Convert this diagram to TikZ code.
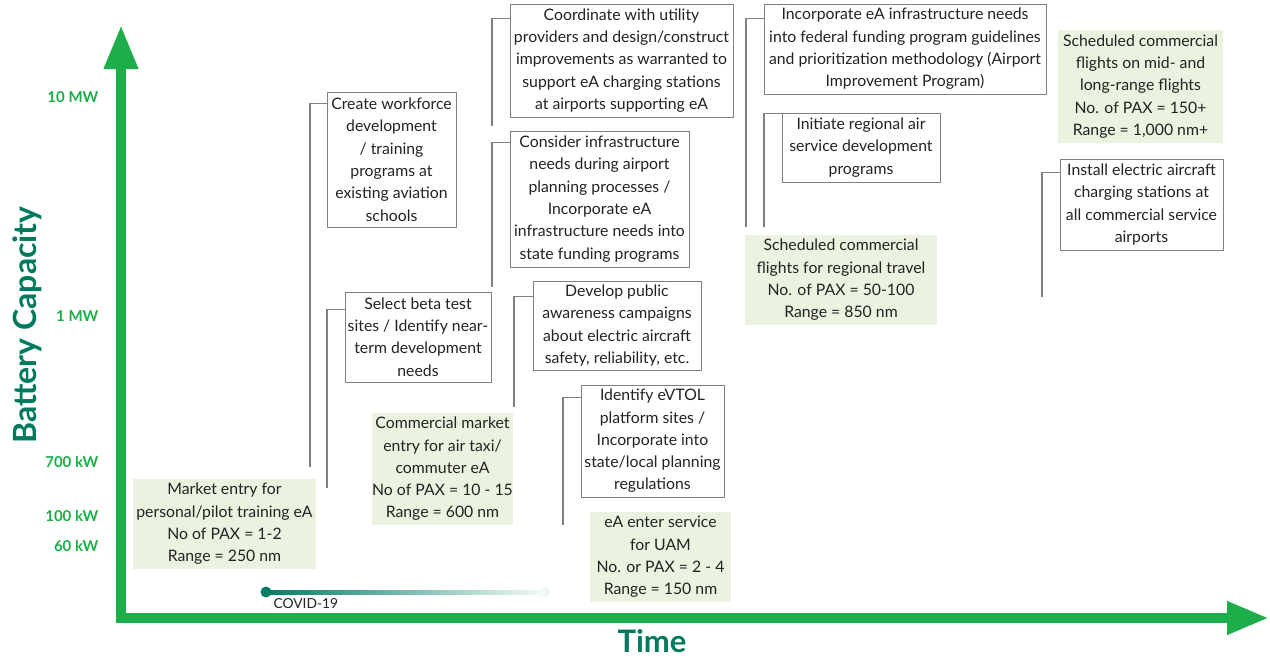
\documentclass[tikz,border=0pt]{standalone}
\usepackage{fontspec}
\setmainfont{Lato}
\usetikzlibrary{arrows.meta}
\definecolor{axisgreen}{RGB}{29,174,75}
\definecolor{titlegreen}{RGB}{0,122,94}
\definecolor{stagefill}{RGB}{235,242,224}
\definecolor{boxline}{RGB}{128,128,128}
\definecolor{textgray}{RGB}{35,35,35}
\definecolor{covid}{RGB}{0,125,100}
\tikzset{
  task/.style={draw=boxline,line width=0.9pt,fill=white,align=center,inner sep=0pt,
    text=textgray,font=\fontsize{15.8}{22.3}\selectfont},
  stage/.style={fill=stagefill,align=center,inner sep=0pt,
    text=textgray,font=\fontsize{15.8}{22.3}\selectfont},
  bracket/.style={draw=boxline,line width=1.3pt},
  level/.style={anchor=east,text=axisgreen,font=\fontsize{15}{16}\selectfont\bfseries},
  axis/.style={draw=axisgreen,line width=10pt,line join=miter}
}
\begin{document}
\begin{tikzpicture}[x=1pt,y=-1pt]
		\useasboundingbox (0,0) rectangle (1270,657);
		% axes
		\draw [axis,{Triangle[length=44pt,width=32pt]}-{Triangle[length=42pt,width=31pt]}] (121,25) -- (121,618) -- (1269,618);
		\node [rotate=90,text=titlegreen,font=\fontsize{32}{34}\selectfont\bfseries] (ylab) at (27,325) {Battery Capacity};
		\node [text=titlegreen,font=\fontsize{31}{33}\selectfont\bfseries] (xlab) at (652,641) {Time};
		\node [level] (l10) at (102,97) {10 MW};
		\node [level] (l1) at (102,316) {1 MW};
		\node [level] (l700) at (102,462) {700 kW};
		\node [level] (l100) at (102,516) {100 kW};
		\node [level] (l60) at (102,546) {60 kW};
		% covid bar
		\node [circle,fill=covid,inner sep=0pt,minimum size=11pt] (covS) at (266,592) {};
		\node [circle,fill=covid!6,inner sep=0pt,minimum size=11pt] (covE) at (545,592) {};
		\shade [left color=covid,right color=covid!4] ([yshift=2pt]covS.center) rectangle ([yshift=-2pt]covE.center);
		\node [anchor=west,text=textgray,font=\fontsize{13.8}{15}\selectfont] (covL) at (270,604) {COVID-19};
		% stages
		\node [stage,minimum width=183pt,minimum height=90pt] (s1) at (224.5,524) {Market entry for\\personal/pilot training eA\\No of PAX = 1-2\\Range = 250 nm};
		\node [stage,minimum width=141pt,minimum height=112pt] (s2) at (442.5,469) {Commercial market\\entry for air taxi/\\commuter eA\\No of PAX = 10 - 15\\Range = 600 nm};
		\node [stage,minimum width=141pt,minimum height=90pt] (s3) at (660.5,557) {eA enter service\\for UAM\\No. or PAX = 2 - 4\\Range = 150 nm};
		\node [stage,minimum width=192pt,minimum height=90pt] (s4) at (841,280) {Scheduled commercial\\flights for regional travel\\No. of PAX = 50-100\\Range = 850 nm};
		\node [stage,minimum width=165pt,minimum height=113pt] (s5) at (1140.5,86.5) {Scheduled commercial\\flights on mid- and\\long-range flights\\No. of PAX = 150+\\Range = 1,000 nm+};
		% tasks
		\node [task,minimum width=129pt,minimum height=135pt] (wf) at (391.5,159.5) {Create workforce\\development\\/ training\\programs at\\existing aviation\\schools};
		\node [task,minimum width=146pt,minimum height=90pt] (beta) at (418,337) {Select beta test\\sites / Identify near-\\term development\\needs};
		\node [task,minimum width=223pt,minimum height=113pt] (util) at (621.5,60.5) {Coordinate with utility\\providers and design/construct\\improvements as warranted to\\support eA charging stations\\at airports supporting eA};
		\node [task,minimum width=179pt,minimum height=136pt] (plan) at (599.5,199) {Consider infrastructure\\needs during airport\\planning processes /\\Incorporate eA\\infrastructure needs into\\state funding programs};
		\node [task,minimum width=168pt,minimum height=89pt] (aware) at (617,325.5) {Develop public\\awareness campaigns\\about electric aircraft\\safety, reliability, etc.};
		\node [task,minimum width=143pt,minimum height=112pt] (evtol) at (652.5,441) {Identify eVTOL\\platform sites /\\Incorporate into\\state/local planning\\regulations};
		\node [task,minimum width=282pt,minimum height=90pt] (fed) at (905,49) {Incorporate eA infrastructure needs\\into federal funding program guidelines\\and prioritization methodology (Airport\\Improvement Program)};
		\node [task,minimum width=158pt,minimum height=69pt] (reg) at (861,147.5) {Initiate regional air\\service development\\programs};
		\node [task,minimum width=163pt,minimum height=91pt] (chg) at (1141.5,204.5) {Install electric aircraft\\charging stations at\\all commercial service\\airports};
		% bracket ends
		\coordinate (wfEnd) at (310,467);
		\coordinate (betaEnd) at (327,488);
		\coordinate (utilEnd) at (492,126);
		\coordinate (planEnd) at (492,287);
		\coordinate (awareEnd) at (514,407);
		\coordinate (evtolEnd) at (563,525);
		\coordinate (fedEnd) at (746,227);
		\coordinate (regEnd) at (764,227);
		\coordinate (chgEnd) at (1042,297);
		\draw [bracket] ([yshift=-12pt]wf.north west) -| (wfEnd);
		\draw [bracket] ([yshift=-18pt]beta.north west) -| (betaEnd);
		\draw [bracket] ([yshift=-15pt]util.north west) -| (utilEnd);
		\draw [bracket] ([yshift=-12pt]plan.north west) -| (planEnd);
		\draw [bracket] ([yshift=-16pt]aware.north west) -| (awareEnd);
		\draw [bracket] ([yshift=-13pt]evtol.north west) -| (evtolEnd);
		\draw [bracket] ([yshift=-15pt]fed.north west) -| (fedEnd);
		\draw [bracket] ([yshift=-1pt]reg.north west) -| (regEnd);
		\draw [bracket] ([yshift=-14pt]chg.north west) -| (chgEnd);
	\end{tikzpicture}
\end{document}
